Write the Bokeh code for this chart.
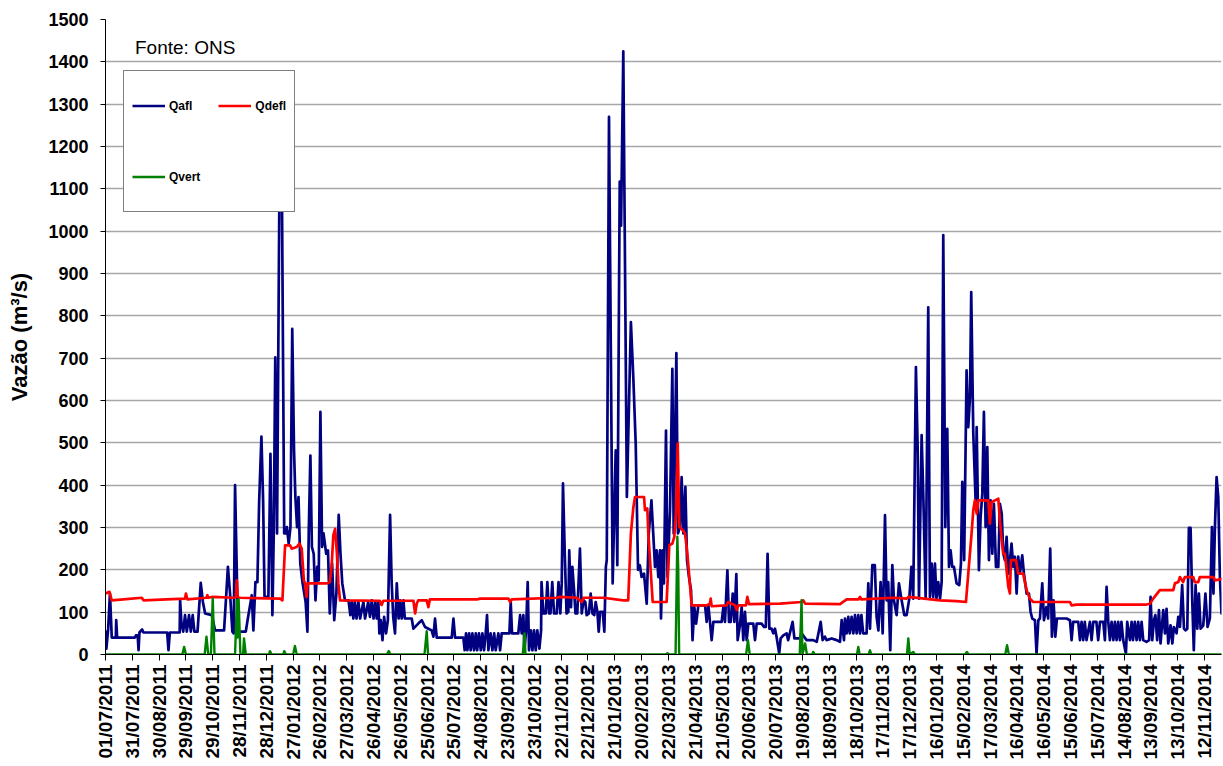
import math
from datetime import date
from bokeh.plotting import figure
from bokeh.models import Range1d, FixedTicker, Legend, LegendItem, Label
from bokeh.embed import file_html
from bokeh.resources import INLINE

# ---------------- data (day offsets from 01/07/2011, flows in m3/s) ----------------
tick_labels = ["01/07/2011", "31/07/2011", "30/08/2011", "29/09/2011", "29/10/2011", "28/11/2011",
               "28/12/2011", "27/01/2012", "26/02/2012", "27/03/2012", "26/04/2012", "26/05/2012",
               "25/06/2012", "25/07/2012", "24/08/2012", "23/09/2012", "23/10/2012", "22/11/2012",
               "22/12/2012", "21/01/2013", "20/02/2013", "22/03/2013", "21/04/2013", "21/05/2013",
               "20/06/2013", "20/07/2013", "19/08/2013", "18/09/2013", "18/10/2013", "17/11/2013",
               "17/12/2013", "16/01/2014", "15/02/2014", "17/03/2014", "16/04/2014", "16/05/2014",
               "15/06/2014", "15/07/2014", "14/08/2014", "13/09/2014", "13/10/2014", "12/11/2014"]
y_ticks = [0, 100, 200, 300, 400, 500, 600, 700, 800, 900, 1000, 1100, 1200, 1300, 1400, 1500]

qafl_day = [0, 1, 3, 5, 7, 11.5, 12, 13, 33, 34, 36, 37, 38, 41, 42.5, 69, 70.5, 72, 83, 83.5, 85, 87, 89, 91,
            93.5, 95.5, 97.6, 99.5, 103, 106.6, 109, 111.5, 119, 122.6, 132.7, 135, 137, 139.4, 142, 143.5,
            145, 147, 148, 157, 159, 163.7, 165.5, 167.8, 170, 172, 174.5, 176.4, 178, 182.3, 184.6, 186.8,
            188.3, 190, 192, 194.5, 197.5, 200, 202, 203, 205, 207, 209, 211, 212.5, 214.4, 216, 218, 220.4,
            224, 226, 227.5, 229.3, 231, 233, 235, 237, 238.6, 240.5, 242.4, 244, 247, 249, 251, 253.6, 256,
            258.4, 261, 263, 265, 268, 272, 274, 275.6, 277.4, 279, 281, 283, 285, 288.6, 290.5, 294,
            296, 298, 300, 302, 303.6, 305.4, 306.5, 308, 310, 311.8, 314, 316, 318.5, 320.3, 322, 324, 326,
            328, 329.7, 331.5, 333.4, 335, 342.7, 344.6, 350, 354, 357.6, 361.4, 365, 367, 368.8, 370.7,
            387.5, 389.4, 391.2, 400.5, 402, 403.5, 405, 407, 408.7, 410.6, 412.5, 414.4, 416, 418, 420,
            421.8, 423.7, 425.5, 427, 428.5, 431, 433, 435, 436.7, 439.7, 441.6, 443.4, 452, 453.5, 455,
            462, 464, 465.8, 467.7, 468.8, 470.7, 472.5, 474, 476, 477.8, 479.6, 481.5, 483.3, 485.6, 487.5,
            488, 490, 492.7, 494.5, 496.4, 498, 500, 502, 505, 507, 509, 510.6, 512, 514, 516, 518, 519, 521,
            522.5, 524.4, 526, 528, 531, 533, 535, 537, 538.5, 541, 543, 545, 547, 548.6, 550.5, 552, 553.5,
            556.5, 558.3, 560, 561, 563.5, 567.6, 571, 572.8, 575.5, 577, 579.5, 583.5, 588, 590.7, 593.4,
            596, 598, 600, 602.7, 605.7, 608, 611, 613, 615, 616.8, 618.7, 620.6, 621.7, 623.6, 625, 627.3,
            629, 631.8, 634.4, 635.9, 638.9, 640.7, 643, 644.8, 646.7, 649, 650.8, 653, 655.3, 657, 659, 661,
            663.5, 671, 672.8, 674.7, 676.5, 678.4, 680.3, 689.6, 691.5, 693.3, 696, 697.8, 699.7, 702,
            703.8, 706, 707.5, 710, 712, 713.8, 715.7, 717.6, 719.4, 725, 726.9, 728.8, 734.3, 737, 739, 741,
            743, 745.5, 747.4, 749.3, 751, 754, 755.6, 758.6, 762.3, 764, 769, 771, 777.2, 779, 784.7, 792,
            796, 800.4, 802.6, 805.2, 807, 812.7, 818.3, 822, 823.9, 826.5, 827.6, 829.5, 831.3, 833, 835,
            837, 838.8, 840.7, 842.5, 844.4, 846, 848, 851.8, 853.7, 855.6, 858.2, 861, 863, 865, 867.5,
            869.8, 872.4, 874.2, 876, 878.3, 880.6, 882.4, 885.4, 888, 891, 894, 896.6, 899.6, 902, 904, 907,
            909, 910.4, 913.4, 915.3, 917.9, 920.8, 922.7, 924.6, 926.4, 928.3, 930, 932, 934, 935.8, 937.6,
            939.9, 942.1, 944, 945.8, 947.7, 949.6, 952.5, 955.5, 957.4, 958.9, 961, 963.7, 965.6, 967.5,
            968.9, 971.2, 973.8, 975, 977.5, 979.4, 981.3, 983.1, 985, 986.9, 988.7, 990.6, 992.5, 994.3,
            996.6, 999.2, 1001, 1003, 1004.8, 1006.6, 1008.5, 1010.4, 1012.2, 1014, 1016, 1017.8, 1019.7,
            1021.5, 1023.4, 1026, 1027.9, 1030.9, 1033.5, 1035.3, 1037.2, 1040.2, 1042, 1044, 1045.8, 1048.4,
            1050.3, 1053, 1055, 1057.3, 1059.2, 1061, 1063, 1064.8, 1075.6, 1079.4, 1081.2, 1083, 1088.7,
            1090.6, 1092.4, 1094.3, 1096, 1098, 1101.7, 1103.6, 1105.5, 1109, 1111, 1113, 1116.7, 1118.5,
            1120.4, 1122.3, 1124.1, 1126, 1128, 1129.7, 1131.6, 1133.4, 1135.3, 1137, 1139, 1142, 1143.5,
            1146.5, 1148.4, 1150, 1152, 1154, 1155.8, 1157.7, 1159.6, 1161.4, 1165, 1168, 1169.6, 1171.5,
            1173.4, 1175, 1177, 1179, 1180.8, 1183.8, 1185.7, 1187.5, 1189.4, 1192, 1194, 1195.7, 1198.7,
            1200.6, 1202.5, 1205, 1207, 1208.8, 1210.7, 1212.5, 1214.4, 1216.3, 1218, 1220, 1221.9, 1223.7,
            1225.6, 1228.6, 1231, 1233.4, 1236, 1238.3, 1240, 1241.6, 1243.5, 1245.4, 1247.2, 1249, 1250]
qafl_val = [57, 14, 61, 144, 40, 40, 81, 40, 40, 45, 45, 10, 52, 59, 52, 52, 10, 52, 52, 128, 73, 54, 93, 54,
            93, 54, 93, 54, 54, 169, 124, 97, 93, 57, 57, 136, 207, 144, 54, 50,
            400, 191, 54, 54, 81, 140, 57, 171, 171, 364, 515, 364, 136, 136, 474, 93,
            286, 702, 286, 1060, 1080, 286, 286, 301, 262, 301, 769, 482, 372, 301, 372, 215, 171,
            124, 54, 293, 470, 254, 238, 128, 207, 175, 573, 254, 286, 238, 246, 97, 215, 81,
            144, 330, 238, 168, 128, 128, 93, 124, 85, 124, 85, 124, 85, 124, 85, 124,
            89, 128, 85, 124, 85, 124, 50, 81, 34, 89, 50, 81, 330, 168, 89, 50, 168,
            85, 128, 85, 128, 85, 85, 61, 73, 81, 65, 61, 57, 42, 85, 40,
            40, 85, 40, 40, 10, 50, 10, 50, 10, 50, 10, 50, 10, 50, 10,
            50, 10, 50, 93, 10, 50, 10, 50, 10, 50, 10, 50, 50, 124, 50,
            50, 93, 50, 93, 10, 57, 171, 10, 57, 10, 57, 10, 57, 14, 57,
            171, 97, 97, 171, 97, 97, 171, 97, 97, 171, 97, 168, 404, 238, 97, 101, 246, 112,
            207, 152, 97, 97, 250, 97, 128, 124, 93, 97, 144, 97, 93, 124, 101, 54, 101,
            101, 54, 207, 223, 1270, 168, 482, 211, 1117, 1013, 1425, 372, 785, 655, 498,
            200, 211, 183, 191, 120, 286, 364, 286, 207, 246, 183, 246, 85, 246, 168, 529,
            183, 341, 675, 286, 712, 286, 301, 419, 286, 396, 223, 183, 152, 34, 112, 73,
            116, 116, 77, 116, 77, 34, 77, 77, 112, 77, 199, 77, 77, 144,
            77, 190, 34, 69, 112, 34, 101, 34, 73, 73, 34, 73, 73, 65, 65, 238,
            61, 61, 50, 61, 42, 2, 38, 45, 50, 34, 77, 38, 38, 50, 34, 34,
            30, 77, 34, 42, 34, 38, 34, 30, 81, 34, 85, 50, 89, 50, 89,
            50, 93, 50, 93, 50, 93, 50, 50, 168, 61, 211, 211, 89, 57, 171,
            50, 329, 128, 171, 10, 211, 128, 93, 168, 128, 93, 93, 132, 207, 132, 679,
            482, 132, 518, 372, 132, 820, 136, 215, 136, 215, 132, 171, 132, 171, 991,
            301, 533, 207, 246, 207, 207, 168, 164, 215, 408, 223, 671, 537, 608,
            856, 522, 364, 537, 199, 325, 380, 573, 301, 490, 223, 364, 238, 356,
            207, 207, 356, 333, 238, 223, 278, 191, 223, 262, 207, 231, 144,
            231, 191, 234, 191, 144, 144, 101, 85, 81, 2, 81, 85, 168,
            81, 112, 85, 250, 42, 128, 42, 85, 85, 81, 34, 77, 77,
            34, 77, 34, 77, 34, 77, 34, 77, 77, 34, 77, 77, 34,
            160, 77, 34, 77, 34, 77, 34, 77, 34, 77, 34, 2, 77,
            34, 77, 34, 77, 34, 77, 34, 77, 34, 30, 34, 136, 34,
            81, 93, 34, 105, 26, 105, 50, 108, 26, 69, 26, 65, 50,
            89, 65, 164, 61, 57, 61, 299, 299, 124, 10, 164, 61, 144,
            61, 69, 144, 65, 85, 301, 144, 299, 419, 372, 183, 97, 128]

qdefl_day = [0, 4.4, 7, 20, 40.6, 42.5, 68.6, 89, 90, 91.7, 113, 114, 115, 120, 143, 146, 147, 148, 150.6,
             195.4, 198, 201, 206.6, 208.4, 214, 217, 219.6, 222, 223.4, 225, 226.3, 247.6, 251, 253, 255,
             257, 259, 260.6, 262.5, 307, 309, 311, 344.6, 346.5, 348.3, 350, 359.5, 361.4, 363, 415.5, 419,
             451, 452.8, 454.6, 505, 508.7, 527.4, 533, 535, 557, 579.6, 585, 588, 590.8, 592.6, 602.7,
             603.8, 606.4, 607.5, 612.4, 628, 631, 634.4, 636.6, 638.5, 640.4, 642.2, 644.8, 648.6, 651.2,
             653.4, 656, 672.8, 676.5, 677.3, 678.4, 695, 697, 704.5, 706.4, 708.2, 716.8, 718.3, 720.2,
             754.9, 779, 781, 783, 822, 829.5, 842.5, 844.4, 846, 881.7, 896.6, 898.5, 934, 952.5, 963,
             965.6, 969.3, 971.2, 973, 975, 976.8, 988, 989.8, 991.7, 999.2, 1001, 1003, 1004.8, 1006.6,
             1010.4, 1012.2, 1013.3, 1019, 1021.5, 1027, 1030.9, 1034.6, 1038.3, 1079.4, 1081.2, 1086.8,
             1165, 1168.9, 1172.6, 1180, 1195, 1196.9, 1200.6, 1202.5, 1206, 1208, 1217.4, 1219, 1223,
             1224.8, 1240, 1241.6, 1250]
qdefl_val = [144, 148, 128, 130, 134, 128, 130, 132, 144, 130, 134, 140, 134, 136, 134, 136, 175, 136, 134,
             132, 128, 258, 258, 250, 254, 262, 250, 175, 168, 136, 168, 168, 171, 207, 282,
             297, 238, 168, 128, 127, 117, 127, 127, 97, 120, 128, 128, 112, 130, 130, 132,
             132, 124, 130, 134, 136, 134, 124, 134, 134, 128, 128, 286, 348, 372, 372,
             341, 345, 286, 124, 124, 258, 262, 278, 333, 498, 301, 297, 286, 238,
             183, 116, 116, 120, 132, 114, 116, 124, 116, 105, 116, 116, 136, 119,
             120, 124, 128, 120, 119, 130, 130, 136, 130, 134, 132, 136, 128, 126, 124,
             191, 286, 341, 364, 333, 364, 364, 309, 360, 368, 317, 270, 238, 238,
             160, 144, 223, 223, 191, 191, 152, 132, 124, 124, 116, 118,
             118, 120, 132, 152, 152, 168, 171, 183, 171, 183, 183, 171, 171,
             183, 183, 175, 179]

qvert_day = [0, 86, 88, 90, 111, 113, 115, 118, 120, 122, 145, 147, 148, 149, 151, 154, 155, 157, 183, 184,
             186, 199, 200, 202, 210, 212, 214, 315, 317, 319, 357, 359.5, 361, 467, 469, 470, 627, 629, 631,
             638, 640, 641, 642, 717, 719, 721, 777, 779, 780, 783, 785, 791, 792, 794, 841, 842.5, 844, 854,
             855.6, 857, 897, 898.5, 900, 904, 906, 962, 964, 966, 1007, 1009, 1011, 1250]
qvert_val = [0, 0, 18, 0, 0, 42, 0, 0, 132, 0, 0, 128, 40, 130, 0, 0, 38, 0, 0, 8,
             0, 0, 8, 0, 0, 20, 0, 0, 8, 0, 0, 55, 0, 0, 50, 0, 0, 3, 0,
             0, 278, 200, 0, 0, 34, 0, 0, 128, 0, 26, 0, 0, 6, 0, 0, 18, 0, 0,
             10, 0, 0, 38, 0, 6, 0, 0, 6, 0, 0, 22, 0, 0]

# ---------------- figure ----------------
FONT = "Liberation Sans"
start = date(2011, 7, 1)


def to_day(s):
    d, m, y = map(int, s.split("/"))
    return (date(y, m, d) - start).days


x_ticks = [to_day(s) for s in tick_labels]

p = figure(width=1222, height=765, output_backend="svg", toolbar_location=None,
           x_range=Range1d(0, 1249), y_range=Range1d(0, 1500),
           min_border_left=105, min_border_right=1, min_border_top=19, min_border_bottom=111)
p.outline_line_color = None
p.background_fill_color = "white"

r1 = p.line(qafl_day, qafl_val, line_color="#000080", line_width=2.7, line_join="round")
r2 = p.line(qdefl_day, qdefl_val, line_color="#FF0000", line_width=2.7, line_join="round")
r3 = p.line(qvert_day, qvert_val, line_color="#008000", line_width=2.4, line_join="round")

# x axis
xa = p.xaxis[0]
xa.ticker = FixedTicker(ticks=x_ticks)
xa.major_label_overrides = {t: s for t, s in zip(x_ticks, tick_labels)}
xa.major_label_orientation = math.pi / 2
xa.major_label_text_font = FONT
xa.major_label_text_font_style = "bold"
xa.major_label_text_font_size = "19px"
xa.major_label_text_color = "black"
xa.major_label_standoff = 4
xa.major_tick_out = 6
xa.major_tick_in = 0
xa.minor_tick_out = 0
xa.minor_tick_in = 0
xa.axis_line_color = "black"
xa.major_tick_line_color = "black"

# y axis
ya = p.yaxis[0]
ya.ticker = FixedTicker(ticks=y_ticks)
ya.major_label_text_font = FONT
ya.major_label_text_font_style = "bold"
ya.major_label_text_font_size = "18px"
ya.major_label_text_color = "black"
ya.major_label_standoff = 12
ya.major_tick_out = 5
ya.major_tick_in = 0
ya.minor_tick_out = 0
ya.minor_tick_in = 0
ya.axis_line_color = "black"
ya.major_tick_line_color = "black"
ya.axis_label = "Vazão (m³/s)"
ya.axis_label_text_font = FONT
ya.axis_label_text_font_style = "bold"
ya.axis_label_text_font_size = "22px"
ya.axis_label_text_color = "black"
ya.axis_label_standoff = 13

p.xgrid.grid_line_color = None
p.ygrid.grid_line_color = "#a6a6a6"
p.ygrid.grid_line_width = 1.5

# source note
p.add_layout(Label(x=33, y=1458, text="Fonte: ONS", text_font=FONT, text_font_size="19px",
                   text_color="black", text_baseline="top", text_align="left"))

# column-major filling: [Qafl, Qvert] in the first column, [Qdefl] in the second
legend = Legend(items=[LegendItem(label="Qafl", renderers=[r1]),
                       LegendItem(label="Qvert", renderers=[r3]),
                       LegendItem(label="Qdefl", renderers=[r2])],
                location=(18, 442), ncols=2, margin=0, padding=8, spacing=18,
                glyph_width=33, glyph_height=53, label_standoff=4, label_width=24,
                label_text_font=FONT, label_text_font_style="bold", label_text_font_size="12px",
                label_text_color="black",
                border_line_color="black", border_line_width=1.5,
                background_fill_color="white", background_fill_alpha=1.0)
p.add_layout(legend)

open("out.html", "w").write(file_html(p, INLINE))
